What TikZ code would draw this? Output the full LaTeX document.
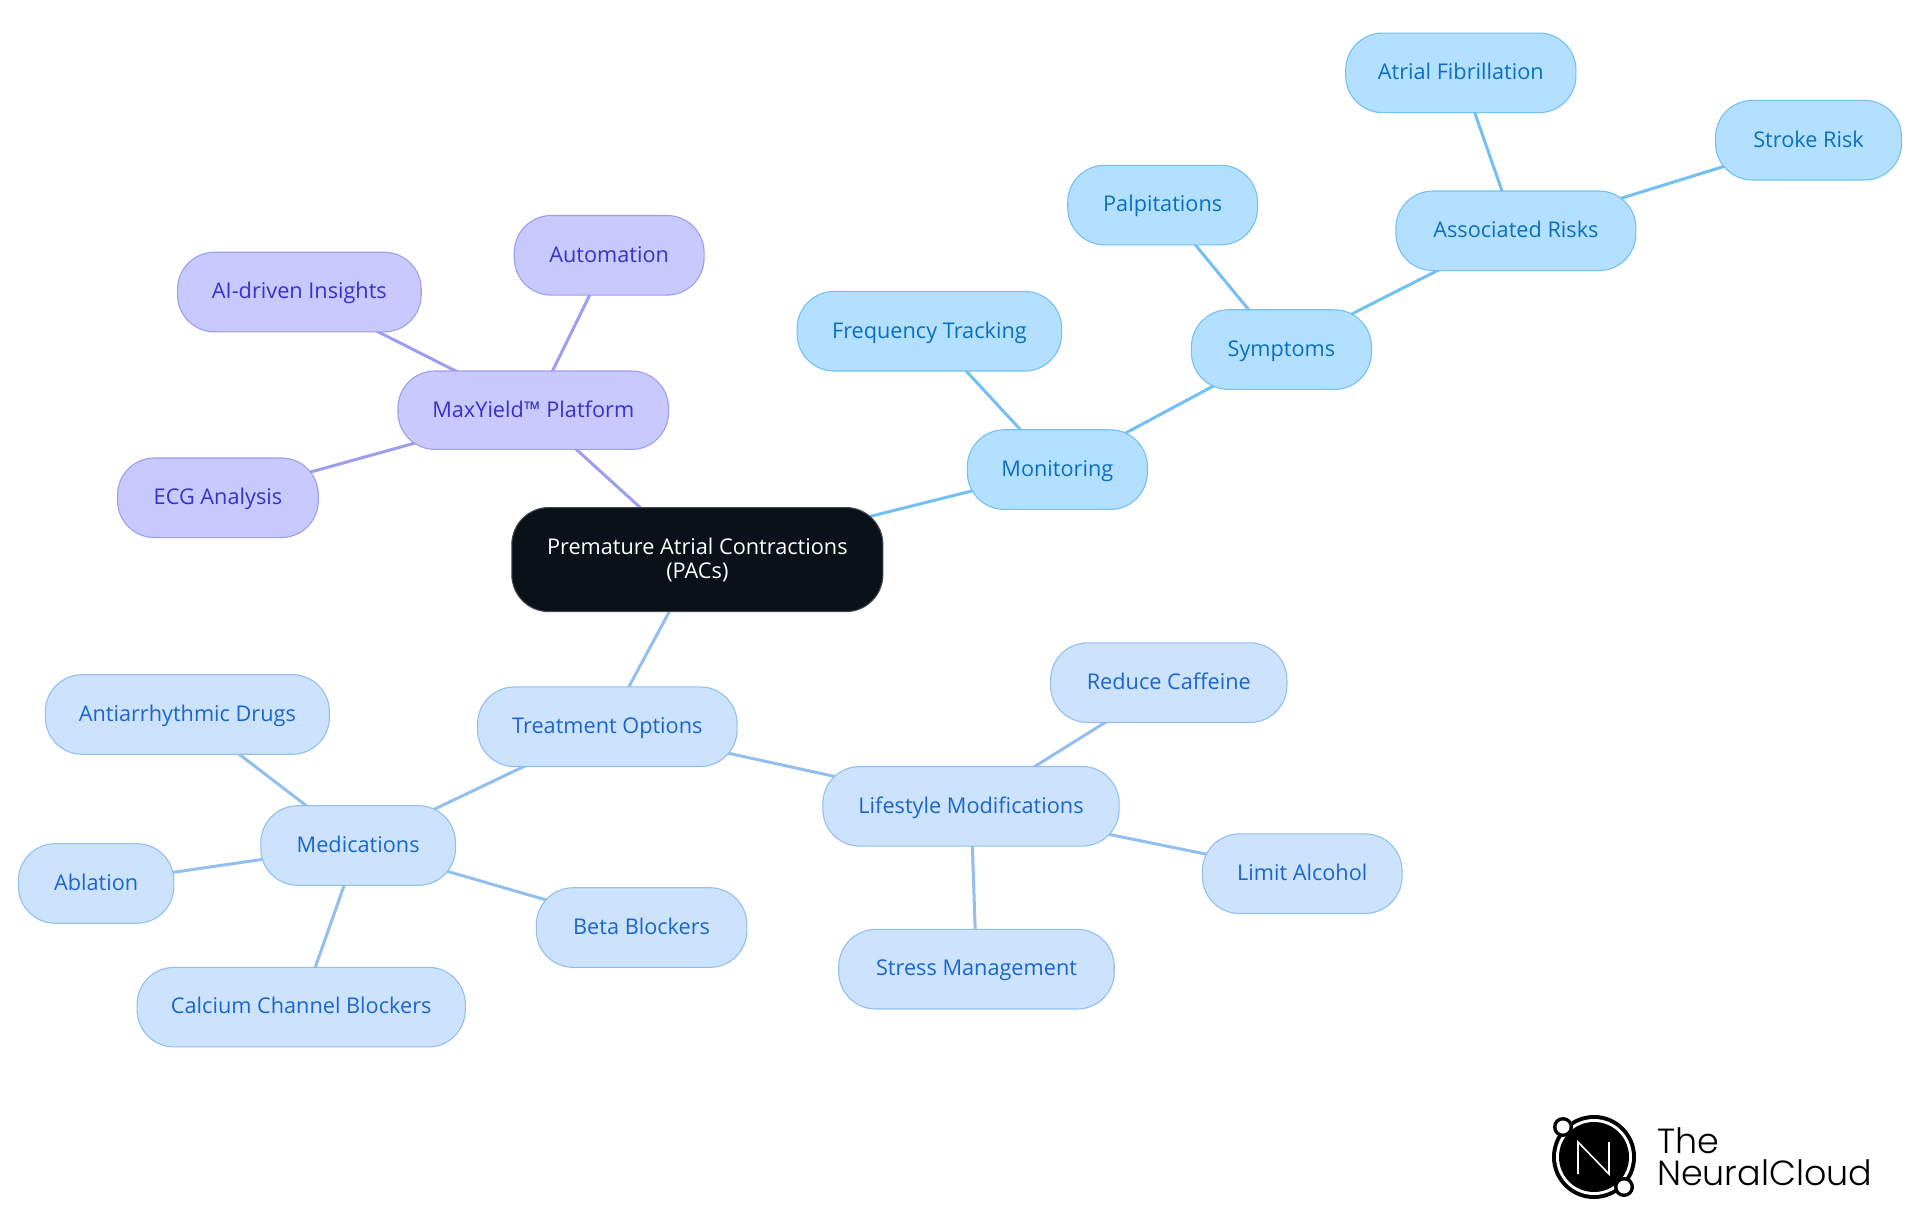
\documentclass[tikz,border=0pt]{standalone}
\usepackage{fontspec}
\setmainfont{Open Sans}
\newfontfamily\logofont{Poppins Light}
\usetikzlibrary{backgrounds}
\definecolor{purpF}{HTML}{C7C9FF}\definecolor{purpD}{HTML}{9E9EF0}\definecolor{purpT}{HTML}{3B30C9}
\definecolor{skyF}{HTML}{B3E0FF}\definecolor{skyD}{HTML}{74C0F5}\definecolor{skyT}{HTML}{0B6FBF}
\definecolor{paleF}{HTML}{CDE3FD}\definecolor{paleD}{HTML}{92BFF0}\definecolor{paleT}{HTML}{1A66CC}
\definecolor{rootF}{HTML}{0A1119}\definecolor{rootD}{HTML}{44484C}
\tikzset{
  pill/.style={rounded corners=37pt,line width=1.1pt,inner sep=0pt,align=center,
    font=\fontsize{21.7}{23.3}\selectfont},
  purp/.style={pill,fill=purpF,draw=purpD,text=purpT},
  sky/.style={pill,fill=skyF,draw=skyD,text=skyT},
  pale/.style={pill,fill=paleF,draw=paleD,text=paleT},
  rootn/.style={pill,fill=rootF,draw=rootD,text=white},
  lnk/.style={line width=3pt},
  lnkP/.style={lnk,draw=purpD},
  lnkS/.style={lnk,draw=skyD},
  lnkL/.style={lnk,draw=paleD},
  logotext/.style={inner sep=0pt,anchor=base west,text=black,font=\logofont\fontsize{34.9}{34.9}\selectfont},
}
% name, x1,x2,y1,y2 (in 1568-wide units), style
\newcommand{\pillbox}[6]{%
  \pgfmathsetmacro{\cx}{(#2+#3)/2*1.22449}%
  \pgfmathsetmacro{\cy}{(#4+#5)/2*1.22449}%
  \pgfmathsetmacro{\ww}{(#3-#2)*1.22449}%
  \pgfmathsetmacro{\hh}{(#5-#4)*1.22449}%
  \node[#6,minimum width=\ww pt,minimum height=\hh pt] (#1) at (\cx,\cy) {};
}
\newcommand{\pillnode}[7]{%
  \pillbox{#1}{#2}{#3}{#4}{#5}{#6}%
  \node[#6,draw=none,fill=none,anchor=base] (#1t) at ([yshift=-6.8pt]#1.center) {#7};
}
\begin{document}
\begin{tikzpicture}[x=1pt,y=-1pt]
\useasboundingbox (0,0) rectangle (1920,1215);
\pillbox{root}{418}{721}{414.5}{499.5}{rootn}
\node[rootn,draw=none,fill=none,anchor=center] (roott) at ([yshift=-0.5pt]root.center) {Premature Atrial Contractions\\(PACs)};
\pillnode{maxy}{325}{546}{303}{367}{purp}{MaxYield™ Platform}
\pillnode{auto}{420}{575}{176}{241}{purp}{Automation}
\pillnode{aidr}{145}{344}{206}{271}{purp}{AI-driven Insights}
\pillnode{ecga}{96}{260}{374}{439}{purp}{ECG Analysis}
\pillnode{moni}{790}{937}{351}{416}{sky}{Monitoring}
\pillnode{freq}{651}{867}{238}{303}{sky}{Frequency Tracking}
\pillnode{symp}{973}{1120}{253}{318}{sky}{Symptoms}
\pillnode{palp}{872}{1027}{135}{200}{sky}{Palpitations}
\pillnode{asso}{1140}{1336}{156}{221}{sky}{Associated Risks}
\pillnode{afib}{1099}{1287}{27}{92}{sky}{Atrial Fibrillation}
\pillnode{strk}{1401}{1553}{82}{147}{sky}{Stroke Risk}
\pillnode{trea}{390}{602}{561}{626}{pale}{Treatment Options}
\pillnode{medi}{213}{372}{658}{723}{pale}{Medications}
\pillnode{anti}{37}{269}{551}{616}{pale}{Antiarrhythmic Drugs}
\pillnode{abla}{15}{142}{689}{754}{pale}{Ablation}
\pillnode{beta}{438}{610}{725}{790}{pale}{Beta Blockers}
\pillnode{calc}{112}{380}{790}{855}{pale}{Calcium Channel Blockers}
\pillnode{life}{672}{914}{626}{691}{pale}{Lifestyle Modifications}
\pillnode{redu}{858}{1051}{525}{590}{pale}{Reduce Caffeine}
\pillnode{limi}{982}{1145}{681}{746}{pale}{Limit Alcohol}
\pillnode{stre}{685}{910}{759}{824}{pale}{Stress Management}
\begin{scope}[on background layer]
\fill[white] (0,0) rectangle (1920,1215);
\draw[lnkP] (root.center) -- (maxy.center);
\draw[lnkP] (maxy.center) -- (auto.center);
\draw[lnkP] (maxy.center) -- (aidr.center);
\draw[lnkP] (maxy.center) -- (ecga.center);
\draw[lnkS] (root.center) -- (moni.center);
\draw[lnkS] (moni.center) -- (freq.center);
\draw[lnkS] (moni.center) -- (symp.center);
\draw[lnkS] (symp.center) -- (palp.center);
\draw[lnkS] (symp.center) -- (asso.center);
\draw[lnkS] (asso.center) -- (afib.center);
\draw[lnkS] (asso.center) -- (strk.center);
\draw[lnkL] (root.center) -- (trea.center);
\draw[lnkL] (trea.center) -- (medi.center);
\draw[lnkL] (trea.center) -- (life.center);
\draw[lnkL] (medi.center) -- (anti.center);
\draw[lnkL] (medi.center) -- (abla.center);
\draw[lnkL] (medi.center) -- (beta.center);
\draw[lnkL] (medi.center) -- (calc.center);
\draw[lnkL] (life.center) -- (redu.center);
\draw[lnkL] (life.center) -- (limi.center);
\draw[lnkL] (life.center) -- (stre.center);
\end{scope}
% logo
\fill[black] (1594,1157) circle[radius=42];
\fill[white] (1594,1157) circle[radius=38];
\fill[black] (1594,1157) circle[radius=35];
\draw[white,line width=1.6pt,line join=miter] (1578,1174) -- (1578,1142) -- (1609,1174) -- (1609,1142);
\fill[black] (1563,1127) circle[radius=10];
\fill[white] (1563,1127) circle[radius=6.5];
\fill[black] (1624,1187) circle[radius=10];
\fill[white] (1624,1187) circle[radius=6.5];
\node[logotext] (logoa) at (1657,1153) {The};
\node[logotext] (logob) at (1657,1185) {NeuralCloud};
\end{tikzpicture}
\end{document}
